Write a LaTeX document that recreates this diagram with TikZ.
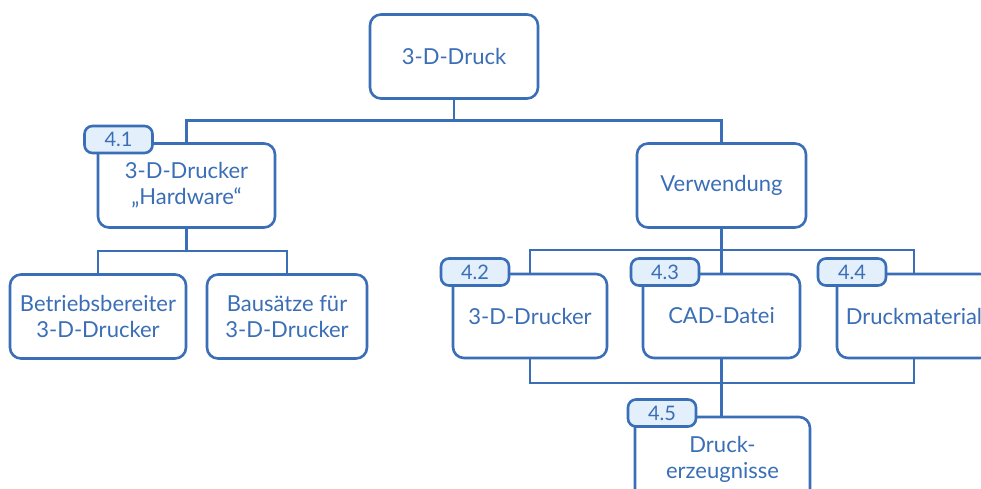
\documentclass[tikz,border=0pt]{standalone}
\usepackage{fontspec}
\setmainfont{Lato}
\usetikzlibrary{positioning}
\definecolor{blau}{RGB}{58,110,182}
\definecolor{hellblau}{RGB}{227,239,250}
\tikzset{
    %Define style for boxes
    kasten/.style={
           rectangle,
           rounded corners=11pt,
           draw=blau, line width=2.6pt,
           fill=white,
           text=blau,
           outer sep=0pt,
           minimum height=84pt,
           align=center,
           font=\fontsize{22}{26}\selectfont},
    % Define style for numbers
    nummer/.style={
           rectangle,
           rounded corners=8pt,
           draw=blau, line width=2.6pt,
           fill=hellblau,
           text=blau,
           minimum width=68pt,
           minimum height=27pt,
           inner sep=0pt,
           font=\fontsize{20}{20}\selectfont},
    % Define line style
    linie/.style={
           draw=blau,
           line width=2.6pt}
}
\begin{document}
\begin{tikzpicture}[x=1pt,y=-1pt]
    \clip (0,0) rectangle (981,489);
    \node (druck) [kasten,minimum width=168pt] at (454,56.5) {3-D-Druck};
    \node (hw) [kasten,minimum width=177pt] [below=45pt of druck,xshift=-267.5pt]
          {3-D-Drucker\\„Hardware“};
    \node (verw) [kasten,minimum width=169pt] [below=45pt of druck,xshift=267.5pt]
          {Verwendung};
    \node (betr) [kasten,minimum width=176pt] [below=47pt of hw,xshift=-88.5pt]
          {Betriebsbereiter\\3-D-Drucker};
    \node (baus) [kasten,minimum width=160pt] [below=47pt of hw,xshift=100.5pt]
          {Bausätze für\\3-D-Drucker};
    \node (drucker) [kasten,minimum width=154pt] [below=46.5pt of verw,xshift=-191.5pt]
          {3-D-Drucker};
    \node (cad) [kasten,minimum width=157pt] [below=46.5pt of verw]
          {CAD-Datei};
    \node (mat) [kasten,minimum width=154pt] [below=46.5pt of verw,xshift=192.5pt]
          {Druckmaterial};
    \node (erz) [kasten,minimum width=175pt] [below=59pt of cad,xshift=1pt]
          {Druck-\\erzeugnisse};
    % connectors
    \draw [linie] (druck.south) -- ++(0,-22pt) -| (hw.north);
    \draw [linie] (druck.south) -- ++(0,-22pt) -| (verw.north);
    \draw [linie] (hw.south) -- ++(0,-23.5pt) -| (betr.north);
    \draw [linie] (hw.south) -- ++(0,-23.5pt) -| (baus.north);
    \draw [linie] (verw.south) -- ++(0,-22.5pt) -| (drucker.north);
    \draw [linie] (verw.south) -- (cad.north);
    \draw [linie] (verw.south) -- ++(0,-22.5pt) -| (mat.north);
    \draw [linie] (drucker.south) -- ++(0,-25pt) -| (mat.south);
    \draw [linie] (cad.south) -- (cad.south |- erz.north);
    % numbers
    \node (n41) [nummer] at ([xshift=20.5pt,yshift=4pt]hw.north west) {4.1};
    \node (n42) [nummer] at ([xshift=22pt,yshift=2pt]drucker.north west) {4.2};
    \node (n43) [nummer] at ([xshift=22pt,yshift=2pt]cad.north west) {4.3};
    \node (n44) [nummer] at ([xshift=15pt,yshift=2pt]mat.north west) {4.4};
    \node (n45) [nummer] at ([xshift=27pt,yshift=4pt]erz.north west) {4.5};
\end{tikzpicture}
\end{document}
